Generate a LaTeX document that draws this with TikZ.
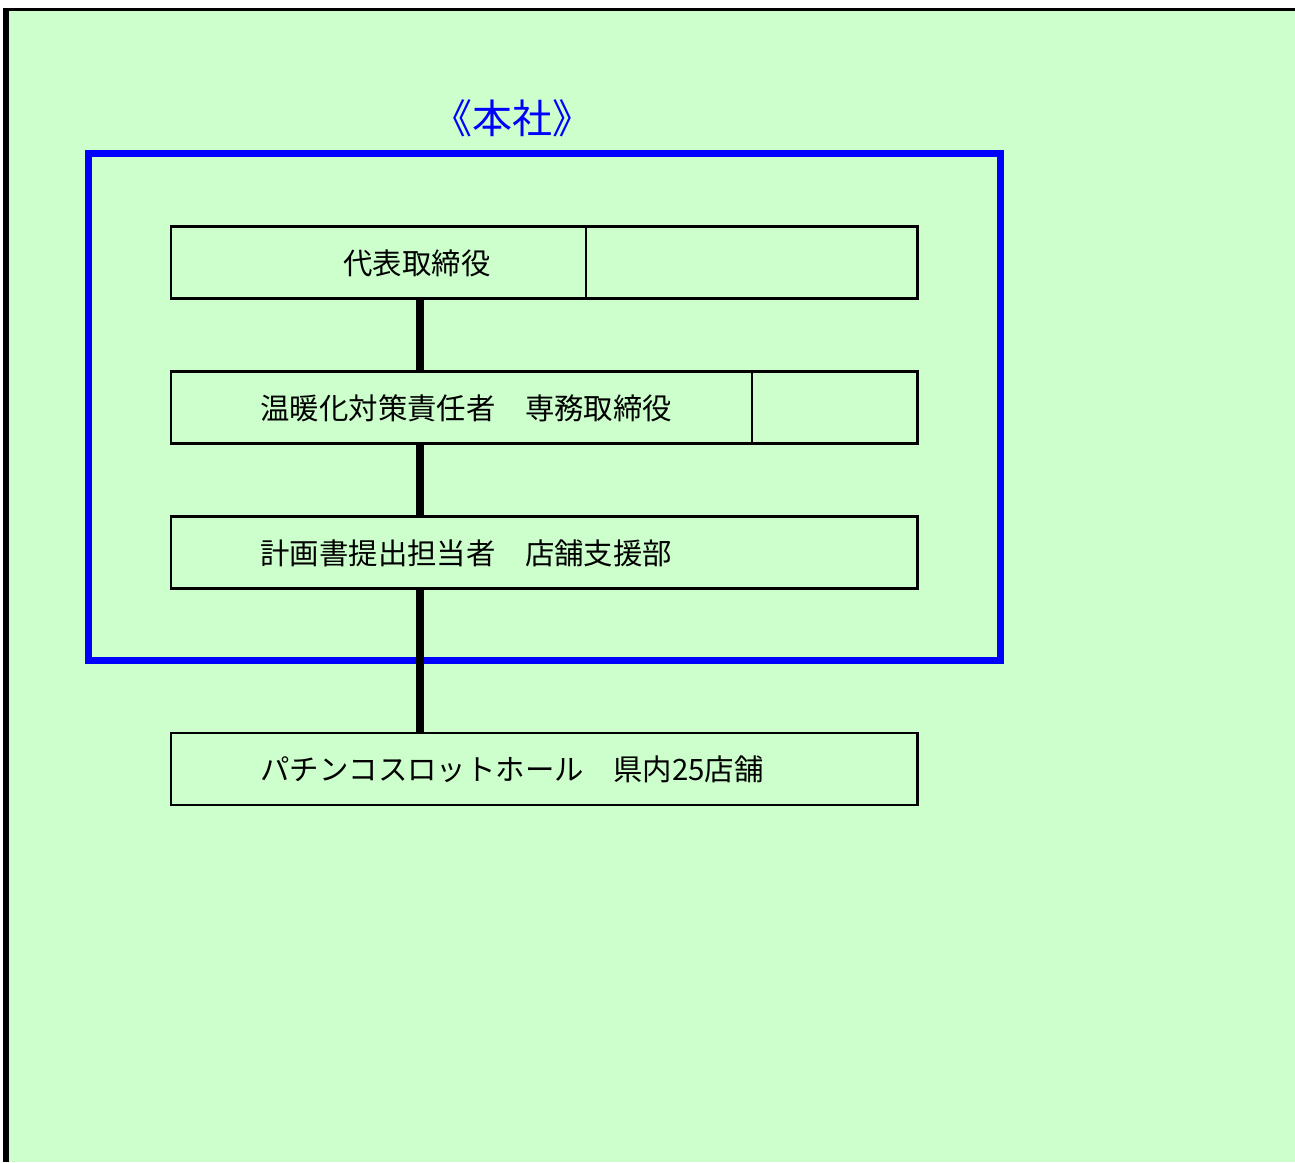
\documentclass[tikz,border=0pt]{standalone}
\usepackage{fontspec}
\usepackage{tikz}
\newfontfamily\jpfont{Noto Sans CJK JP}
\definecolor{paper}{RGB}{204, 255, 204}
\definecolor{frame}{RGB}{0, 0, 255}

\begin{document}
\begin{tikzpicture}[x=1pt, y=-1pt, thick,
    box/.style={draw, line width=2.5pt, inner sep=0pt, outer sep=0pt, minimum height=72pt},
    lbl/.style={anchor=west, inner sep=0pt, font=\jpfont\fontsize{29.4}{29.4}\selectfont},
    link/.style={line width=8pt}]
  \useasboundingbox (0, 0) rectangle (1295, 1162);
  \fill[color=paper] (6, 9.5) rectangle (1295, 1162);
  \draw[line width=3pt] (3, 9.5) -- (1295, 9.5);
  \draw[line width=6pt] (6, 8) -- (6, 1162);

  % head office frame
  \draw[color=frame, line width=7pt] (88.5, 153.5) rectangle (1000.5, 660.5);
  \node[color=frame, font=\jpfont\fontsize{40}{40}\selectfont] (hq) at (512, 118) {《本社》};

  \node[box, minimum width=415pt] (ceo) at (378.5, 262.7) {};
  \node[box, minimum width=331.3pt, anchor=west] (ceoside) at (ceo.east) {};
  \node[box, minimum width=581.2pt] (mgr) at (461.6, 407.3) {};
  \node[box, minimum width=165.1pt, anchor=west] (mgrside) at (mgr.east) {};
  \node[box, minimum width=746.3pt] (plan) at (544.15, 552.5) {};
  \node[box, minimum width=746.3pt] (hall) at (544.15, 769) {};

  \node[lbl] (ceotxt) at (343, 263) {代表取締役};
  \node[lbl] (mgrtxt) at (260, 408) {温暖化対策責任者　専務取締役};
  \node[lbl] (plantxt) at (260, 553) {計画書提出担当者　店舗支援部};
  \node[lbl] (halltxt) at (260, 769) {パチンコスロットホール　県内25店舗};

  \coordinate (trunk) at (420, 0);
  \draw[link] (trunk |- ceo.south) -- (trunk |- mgr.north);
  \draw[link] (trunk |- mgr.south) -- (trunk |- plan.north);
  \draw[link] (trunk |- plan.south) -- (trunk |- hall.north);
\end{tikzpicture}
\end{document}
